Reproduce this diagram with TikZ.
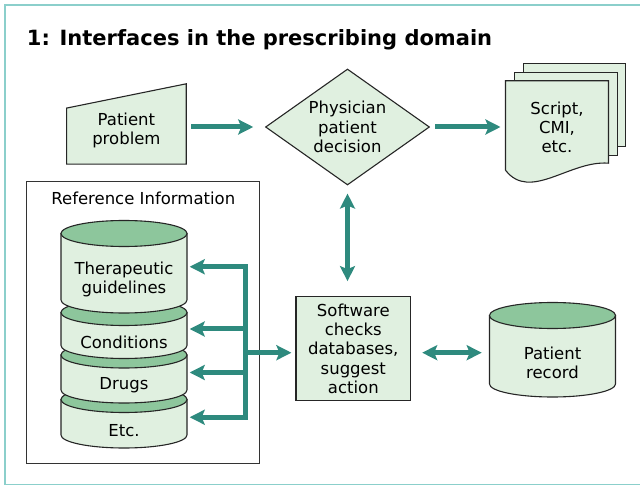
\documentclass[tikz,border=0pt]{standalone}
\usepackage{fontspec}
\setmainfont{DejaVu Sans}
\usepackage{tikz}
\usetikzlibrary{shapes.geometric, arrows.meta, positioning}
\definecolor{flowcolor}{HTML}{2E8A7E}
\definecolor{fillcolor}{HTML}{E0F0E0}
\definecolor{capcolor}{HTML}{8DC69C}
\definecolor{framecolor}{HTML}{8BCFCB}

% drum: name, x centre, top, bottom, text
\newcommand{\drum}[5]{%
  \filldraw[shp] (#2-63,#3) -- (#2-63,#4) arc[start angle=180, end angle=0, x radius=63, y radius=13] -- (#2+63,#3) -- cycle;
  \filldraw[shp, fill=capcolor] (#2,#3) ellipse[x radius=63, y radius=13];
  \node[minimum width=126pt, minimum height={#4-#3}, inner sep=0] (#1) at (#2,{(#3+#4)/2}) {};
  \node[txt] (#1-txt) at (#2,{(#3+#4)/2+13}) {#5};
}

\begin{document}
\begin{tikzpicture}[
    x=1pt, y=-1pt,
    >={Stealth[length=15pt, width=15pt, inset=3pt]},
    shp/.style={draw=black!85, line width=1.1pt, fill=fillcolor},
    txt/.style={inner sep=0, align=center, font=\fontsize{16.5}{19.3}\selectfont},
    box/.style={rectangle, shp, txt, minimum width=114.7pt, minimum height=104pt},
    arr/.style={line width=5pt, flowcolor}
]
\useasboundingbox (0,0) rectangle (640,486);
\draw[framecolor, line width=1.6pt] (5,5) rectangle (660,484.3);

\node[anchor=base west, inner sep=0, font=\fontsize{21}{25}\selectfont\bfseries] (title) at (26.7,45.7) {1: Interfaces in the prescribing domain};

% -- TOP ROW: problem, decision, paperwork --
\node[minimum width=119.3pt, minimum height=80pt, inner sep=0] (prob) at (126.4,124) {};
\filldraw[shp] (prob.south west) -- (prob.south east) -- (prob.north east) -- ([yshift=-24.3pt]prob.north west) -- cycle;
\node[txt] (prob-txt) at ([yshift=-6.3pt]prob.center) {Patient\\problem};

\node[diamond, shp, txt, aspect=1.41, minimum width=164pt, minimum height=116pt] (dec) at (347.5,127) {Physician\\patient\\decision};

\node[minimum width=102.6pt, minimum height=89pt, inner sep=0] (doc) at (557,125.5) {};
\filldraw[shp] ([shift={(17.6pt,17pt)}]doc.north west) rectangle ([shift={(17.4pt,23.3pt)}]doc.south east);
\filldraw[shp] ([shift={(8.8pt,8.5pt)}]doc.north west) rectangle ([shift={(8.6pt,15pt)}]doc.south east);
\filldraw[shp] (doc.north west) -- (doc.north east) -- ([yshift=7pt]doc.south east) .. controls (570,160) and (530,202) .. (doc.south west) -- cycle;
\node[txt] (doc-txt) at ([yshift=-2pt]doc.center) {Script,\\CMI,\\etc.};

% -- REFERENCE STACK --
\node[draw=black!80, line width=1pt, fill=white, minimum width=233.3pt, minimum height=281pt] (refbox) at (143.3,322.5) {};
\node[txt, below=10pt of refbox.north] (reftitle) {Reference Information};

\drum{etc}{124}{399.5}{435}{Etc.}
\drum{drug}{124}{355}{390}{Drugs}
\drum{cond}{124}{312.5}{345.5}{Conditions}
\drum{thera}{124}{233.5}{300}{Therapeutic\\guidelines}

% -- SOFTWARE AND RECORD --
\node[box] (sw) at (353.3,348.7) {Software\\checks\\databases,\\suggest\\action};
\drum{rec}{552.5}{315.5}{384}{Patient\\record}

% -- FLOWS --
\coordinate (hub) at (245.5,352.7);
\draw[->, arr, shorten <=5pt, shorten >=11.7pt] (prob.east |- dec.west) -- (dec.west);
\draw[->, arr, shorten <=5.3pt, shorten >=5pt] (dec.east) -- (dec.east -| doc.west);
\draw[<->, arr, shorten <=8pt, shorten >=15pt] (dec.south) -- (dec.south |- sw.north);
\draw[->, arr, shorten >=2.5pt] (hub |- etc) -- (hub |- thera) -- (thera.east);
\draw[->, arr, shorten >=2.5pt] (hub |- thera) -- (hub |- etc) -- (etc.east);
\draw[->, arr, shorten >=2.5pt] (hub |- cond) -- (cond.east);
\draw[->, arr, shorten >=2.5pt] (hub |- drug) -- (drug.east);
\draw[->, arr, shorten >=4pt] (hub) -- (hub -| sw.west);
\draw[<->, arr, shorten <=11pt, shorten >=7.6pt] (hub -| sw.east) -- (hub -| rec.west);

\end{tikzpicture}
\end{document}
